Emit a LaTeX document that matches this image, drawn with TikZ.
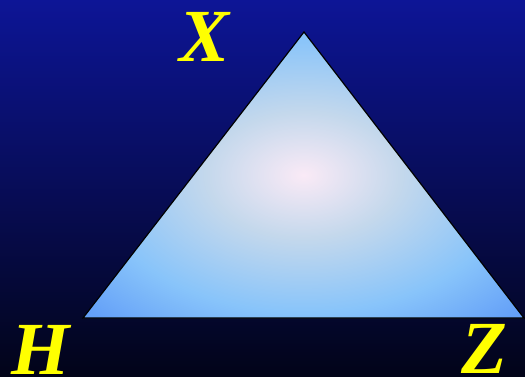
\documentclass[tikz,border=0pt]{standalone}
\usepackage{fontspec}
\setmainfont{Liberation Serif}
\definecolor{bgtop}{RGB}{13,21,150}
\definecolor{bgbot}{RGB}{2,4,24}
\definecolor{pinkc}{RGB}{250,234,246}
\definecolor{midc}{RGB}{196,216,236}
\definecolor{edgec}{RGB}{136,196,250}
\definecolor{cornc}{RGB}{100,160,248}
\definecolor{labc}{RGB}{255,255,0}
\pgfdeclareradialshading{trishade}{\pgfpoint{0bp}{0bp}}{color(0bp)=(pinkc); color(11bp)=(midc); color(24bp)=(edgec); color(34bp)=(cornc); color(50bp)=(cornc)}
\tikzset{lab/.style={text=labc,font=\fontsize{75}{75}\selectfont\bfseries\itshape,inner sep=0pt}}
\begin{document}
\begin{tikzpicture}[x=1pt,y=-1pt]
\def\w{525}
\def\h{377}
\shade[top color=bgtop,bottom color=bgbot] (0,0) rectangle (\w,\h);
\useasboundingbox (0,0) rectangle (\w,\h);
\coordinate (X) at (304,32);
\coordinate (H) at (83,318);
\coordinate (Z) at (524,318);
\shade[shading=trishade,draw=black,line width=1.2pt,line join=miter] (X)--(H)--(Z)--cycle;
\node[lab] (lx) at (205,37) {X};
\node[lab] (lh) at (41,350) {H};
\node[lab] (lz) at (484,349) {Z};
\end{tikzpicture}
\end{document}
